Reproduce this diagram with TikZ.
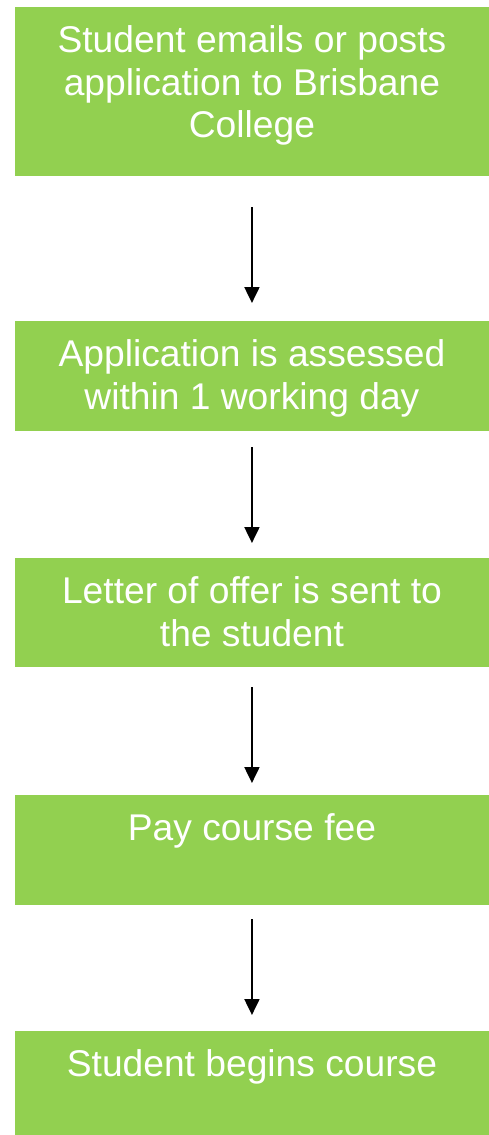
\documentclass[tikz,border=0pt]{standalone}
\usepackage{fontspec}
\setmainfont{Liberation Sans}
\usetikzlibrary{arrows.meta}
\definecolor{boxgreen}{RGB}{146,208,80}
\tikzset{
  stepbox/.style={fill=boxgreen, draw=none, rectangle, inner sep=0pt, anchor=north west, minimum width=474.5pt},
  steptext/.style={anchor=north, inner sep=0pt, text=white, align=center, font=\fontsize{37.2}{42.8}\selectfont, yshift=-18.2pt},
  arr/.style={draw=black, line width=2pt, -{Triangle[width=15pt,length=16pt]}}
}
\begin{document}
\begin{tikzpicture}[x=1pt,y=-1pt]
\useasboundingbox (0,0) rectangle (489,1135);
\node[stepbox, minimum height=169pt] (b1) at (14.5,7) {};
\node[stepbox, minimum height=110pt] (b2) at (14.5,321) {};
\node[stepbox, minimum height=109pt] (b3) at (14.5,558) {};
\node[stepbox, minimum height=110pt] (b4) at (14.5,795) {};
\node[stepbox, minimum height=104pt] (b5) at (14.5,1031) {};
\node[steptext] (t1) at (b1.north) {Student emails or posts\\application to Brisbane\\College};
\node[steptext] (t2) at (b2.north) {Application is assessed\\within 1 working day};
\node[steptext] (t3) at (b3.north) {Letter of offer is sent to\\the student};
\node[steptext] (t4) at (b4.north) {Pay course fee};
\node[steptext] (t5) at (b5.north) {Student begins course};
\draw[arr, shorten <=31pt, shorten >=18pt] (b1) -- (b2);
\draw[arr, shorten <=16pt, shorten >=15pt] (b2) -- (b3);
\draw[arr, shorten <=20pt, shorten >=12pt] (b3) -- (b4);
\draw[arr, shorten <=14pt, shorten >=16pt] (b4) -- (b5);
\end{tikzpicture}
\end{document}
